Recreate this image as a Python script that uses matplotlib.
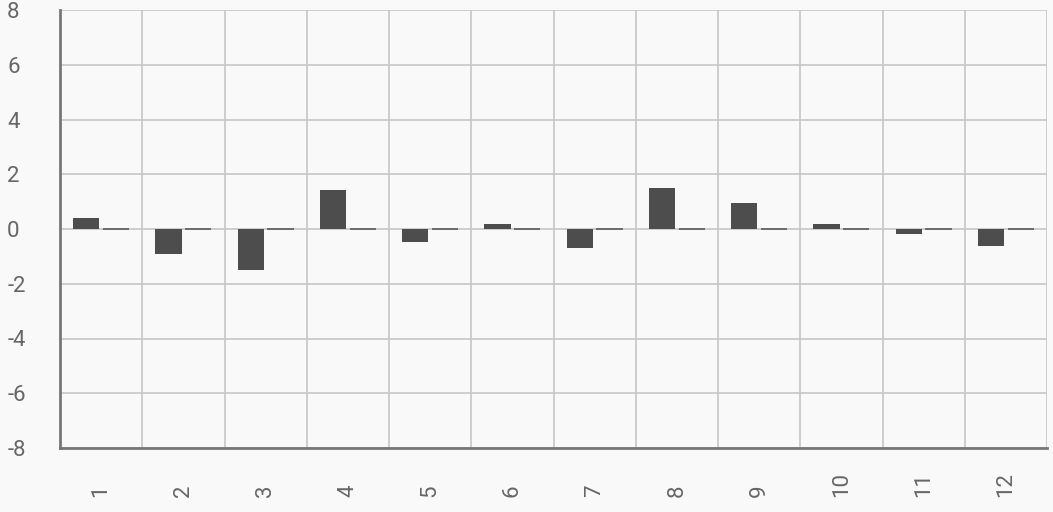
import matplotlib.pyplot as plt
import numpy as np

plt.rcParams['font.family'] = ['Roboto', 'DejaVu Sans']
plt.rcParams['axes.unicode_minus'] = False

# Categories and the two series
categories = ['1', '2', '3', '4', '5', '6', '7', '8', '9', '10', '11', '12']
series_a = [0.40, -0.90, -1.50, 1.42, -0.46, 0.18, -0.69, 1.49, 0.94, 0.18, -0.20, -0.63]
series_b = [0, 0, 0, 0, 0, 0, 0, 0, 0, 0, 0, 0]
y_ticks = [-8, -6, -4, -2, 0, 2, 4, 6, 8]

bg = '#f9f9f9'
grid_col = '#c6c6c6'
text_col = '#666666'

fig = plt.figure(figsize=(10.53, 5.12), dpi=100, facecolor=bg)
ax = fig.add_axes([60 / 1053, 64 / 512, 987 / 1053, 438 / 512], facecolor=bg)

x = np.arange(len(categories))
w = 0.32
ax.bar(x - w / 2 - 0.02, series_a, width=w, color='#4d4d4d', zorder=3)
ax.bar(x + w / 2 + 0.02, series_b, width=w, color='#4d4d4d',
       edgecolor='#5a5a5a', linewidth=1.2, zorder=3)

ax.set_xlim(-0.5, len(categories) - 0.5)
ax.set_ylim(-8, 8)
ax.set_yticks(y_ticks)

# Vertical grid at category boundaries
ax.set_xticks(x)
ax.set_xticklabels(categories, rotation=90)
ax.set_xticks(np.arange(len(categories) + 1) - 0.5, minor=True)
ax.grid(which='minor', axis='x', color=grid_col, linewidth=1.2, zorder=0)
ax.grid(which='major', axis='y', color=grid_col, linewidth=1.2, zorder=0)

for s in ['top', 'right']:
    ax.spines[s].set_visible(False)
for s in ['left', 'bottom']:
    ax.spines[s].set_color('#777777')
    ax.spines[s].set_linewidth(2)

ax.tick_params(axis='both', which='both', length=0, colors=text_col, labelsize=16)
ax.tick_params(axis='y', pad=38)
ax.tick_params(axis='x', pad=35)
for lbl in ax.get_yticklabels():
    lbl.set_ha('left')
for lbl in ax.get_xticklabels():
    lbl.set_va('bottom')

plt.savefig('out.png', dpi=100, facecolor=bg)
